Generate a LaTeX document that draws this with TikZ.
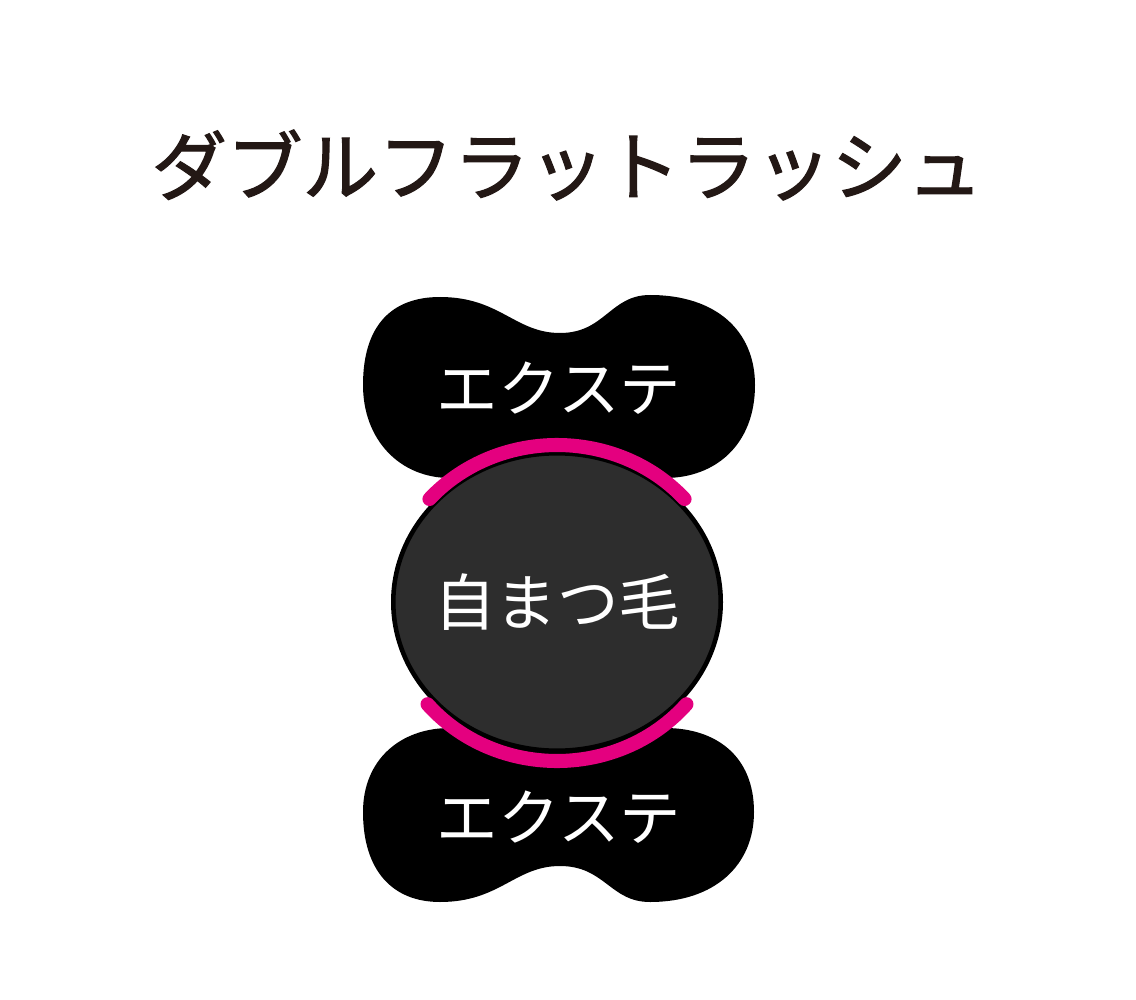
\documentclass[tikz,border=0pt]{standalone}
\usepackage{fontspec}
\newfontfamily\jpfont{Noto Sans CJK JP}
\newfontfamily\jptitlefont[FakeBold=1.6]{Noto Sans CJK JP}
\usetikzlibrary{shapes.geometric,positioning}
\definecolor{gluepink}{HTML}{E4007F}
\definecolor{titleink}{HTML}{231815}
\definecolor{lashgray}{HTML}{2D2D2D}

\begin{document}
\begin{tikzpicture}[
  x=0.02cm, y=-0.02cm,
  extshape/.style={fill=black},
  lbl/.style={text=white,font=\jpfont\fontsize{35}{40}\selectfont},
  natural/.style={ellipse,draw=black,line width=2.6pt,fill=lashgray,
    minimum width=6.55cm,minimum height=5.95cm,inner sep=0pt},
  glueline/.style={draw=gluepink,line width=8pt,line cap=round}
]
\useasboundingbox[fill=white] (0,0) rectangle (1136,1000);

\node[text=titleink,font=\jptitlefont\fontsize{43}{48}\selectfont] (title) at (567,165) {ダブルフラットラッシュ};

% upper extension
\fill[extshape] (560,333) .. controls (605,333) and (610,295) .. (650,295)
  .. controls (715,295) and (755,330) .. (755,385)
  .. controls (755,445) and (715,478) .. (665,478)
  .. controls (620,478) and (600,460) .. (560,460)
  .. controls (520,460) and (495,478) .. (450,478)
  .. controls (400,478) and (363,440) .. (363,385)
  .. controls (363,325) and (392,297) .. (440,297)
  .. controls (500,297) and (515,333) .. (560,333) -- cycle;

% lower extension
\fill[extshape] (560,866) .. controls (605,866) and (610,902) .. (650,902)
  .. controls (715,902) and (754,865) .. (754,812)
  .. controls (754,755) and (715,728) .. (665,728)
  .. controls (620,728) and (600,745) .. (560,745)
  .. controls (520,745) and (495,728) .. (450,728)
  .. controls (400,728) and (363,760) .. (363,812)
  .. controls (363,870) and (392,902) .. (440,902)
  .. controls (500,902) and (515,866) .. (560,866) -- cycle;

\node[lbl] (ext1) at (559,388) {エクステ};
\node[lbl] (ext2) at (559,817) {エクステ};

\node[natural] (lash) at (557,602) {};
\node[lbl] (lashlbl) at (lash.center) {自まつ毛};

% glue
\draw[glueline] (lash.center) ++(221:169 and 157) arc[start angle=221,end angle=319,x radius=169,y radius=157];
\draw[glueline] (lash.center) ++(40:169 and 159) arc[start angle=40,end angle=140,x radius=169,y radius=159];

\end{tikzpicture}
\end{document}
